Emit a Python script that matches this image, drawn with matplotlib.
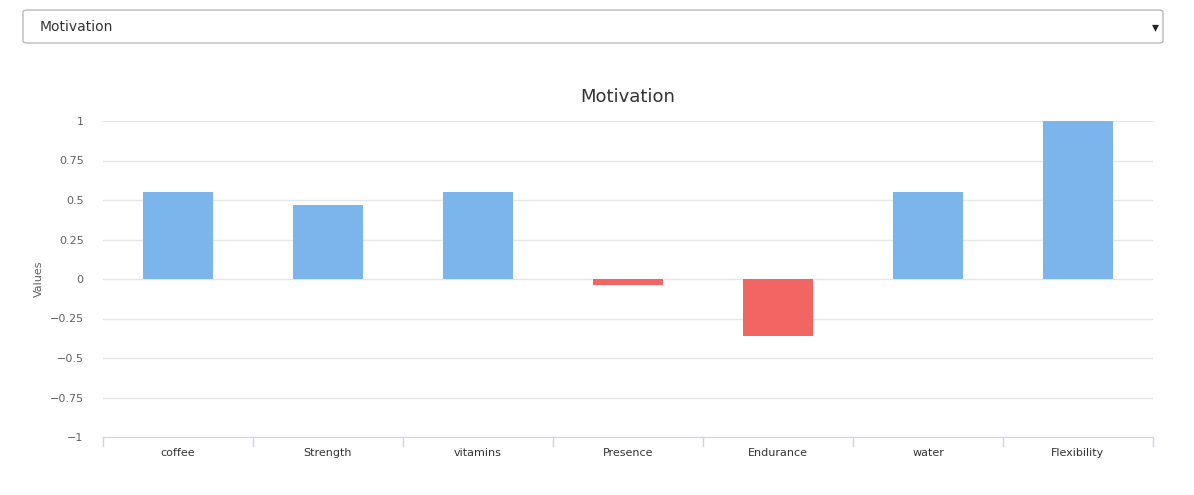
import matplotlib
matplotlib.use('Agg')
from matplotlib import pyplot as plt
from matplotlib.patches import FancyBboxPatch

categories = ['coffee', 'Strength', 'vitamins', 'Presence', 'Endurance', 'water', 'Flexibility']
values = [0.55, 0.47, 0.55, -0.04, -0.36, 0.55, 1.0]
yticks = [-1, -0.75, -0.5, -0.25, 0, 0.25, 0.5, 0.75, 1]
yticklabels = ['\u22121', '\u22120.75', '\u22120.5', '\u22120.25', '0', '0.25', '0.5', '0.75', '1']

W, H = 1194, 495
fig = plt.figure(figsize=(W / 100, H / 100), dpi=100)

# dropdown box at the top
box = FancyBboxPatch((23 / W, 1 - 43 / H), 1140 / W, 33 / H,
                     boxstyle='round,pad=0,rounding_size=0.004',
                     transform=fig.transFigure, facecolor='white',
                     edgecolor='#bbbbbb', linewidth=1)
fig.patches.append(box)
fig.text(40 / W, 1 - 27 / H, 'Motivation', fontsize=10, color='#333333', va='center')
fig.text(1155 / W, 1 - 27 / H, '\u25BE', fontsize=10, color='#222222', va='center', ha='center')

# chart area
ax = fig.add_axes([103 / W, 1 - 437 / H, 1050 / W, 316 / H])
colors = ['#7cb5ec' if v >= 0 else '#f26563' for v in values]
ax.bar(range(len(categories)), values, width=0.47, color=colors, zorder=3)

ax.set_xlim(-0.5, len(categories) - 0.5)
ax.set_ylim(-1, 1)
ax.set_yticks(yticks)
ax.set_yticklabels(yticklabels)
ax.set_xticks(range(len(categories)))
ax.set_xticklabels(categories)
ax.grid(axis='y', color='#e6e6e6', linewidth=1, zorder=0)
ax.tick_params(axis='y', length=0, labelsize=8, colors='#606060', pad=14)
ax.tick_params(axis='x', length=0, labelsize=8, colors='#333333', pad=8)
for s in ['top', 'right', 'left']:
    ax.spines[s].set_visible(False)
ax.spines['bottom'].set_color('#ccd6eb')
# category separator ticks
for i in range(len(categories) + 1):
    ax.plot([i - 0.5, i - 0.5], [-1, -1.06], color='#ccd6eb', lw=1, clip_on=False)

ax.set_ylabel('Values', fontsize=8, color='#606060', labelpad=4)
ax.set_title('Motivation', fontsize=13, color='#333333', pad=14)

fig.savefig('out.png', dpi=100)
